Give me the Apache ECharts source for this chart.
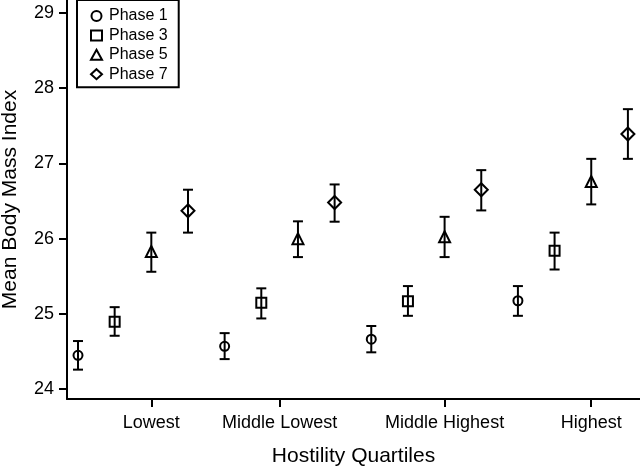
<!DOCTYPE html>
<html>
<head>
<meta charset="utf-8">
<script src="https://cdn.jsdelivr.net/npm/echarts@6/dist/echarts.min.js"></script>
<style>
html,body{margin:0;padding:0;background:#fff;}
#chart{width:640px;height:467px;}
</style>
</head>
<body>
<div id="chart"></div>
<script>
// ---- data ----
const quartiles = ['Lowest', 'Middle Lowest', 'Middle Highest', 'Highest'];
const tickPositions = [3, 6.5, 11, 15];
const phaseNames = ['Phase 1', 'Phase 3', 'Phase 5', 'Phase 7'];
const phaseSymbols = ['circle', 'rect', 'triangle', 'diamond'];

const phase1Mean = [24.45, 24.57, 24.665, 25.175];
const phase1Lo   = [24.26, 24.40, 24.49, 24.975];
const phase1Hi   = [24.64, 24.745, 24.84, 25.37];

const phase3Mean = [24.895, 25.15, 25.17, 25.84];
const phase3Lo   = [24.71, 24.94, 24.975, 25.59];
const phase3Hi   = [25.09, 25.34, 25.37, 26.08];

const phase5Mean = [25.83, 26.00, 26.025, 26.76];
const phase5Lo   = [25.56, 25.755, 25.755, 26.455];
const phase5Hi   = [26.08, 26.23, 26.29, 27.06];

const phase7Mean = [26.37, 26.48, 26.65, 27.39];
const phase7Lo   = [26.08, 26.225, 26.375, 27.06];
const phase7Hi   = [26.65, 26.72, 26.91, 27.72];

const yTicks = [24, 25, 26, 27, 28, 29];

// ---- build ----
const means = [phase1Mean, phase3Mean, phase5Mean, phase7Mean];
const los = [phase1Lo, phase3Lo, phase5Lo, phase7Lo];
const his = [phase1Hi, phase3Hi, phase5Hi, phase7Hi];
const symSizes = [9, 10, 11, 13];

const FONT = '"Liberation Sans", Arial, sans-serif';
const series = [];
const errData = [];
phaseNames.forEach((name, p) => {
  const pts = [];
  quartiles.forEach((q, i) => {
    const x = i * 4 + p + 1;
    pts.push([x, means[p][i]]);
    errData.push([x, los[p][i], his[p][i]]);
  });
  series.push({
    name: name,
    type: 'scatter',
    symbol: phaseSymbols[p],
    symbolSize: symSizes[p],
    z: 3,
    itemStyle: { color: 'rgba(255,255,255,0)', borderColor: '#000', borderWidth: 2, opacity: 1 },
    data: pts
  });
});
series.push({
  type: 'custom',
  name: 'err',
  z: 2,
  encode: { x: 0, y: [1, 2] },
  renderItem: function (params, api) {
    const x = api.value(0), lo = api.value(1), hi = api.value(2);
    const a = api.coord([x, lo]), b = api.coord([x, hi]);
    const hw = 5;
    const st = { stroke: '#000', lineWidth: 2 };
    return {
      type: 'group',
      children: [
        { type: 'line', shape: { x1: a[0], y1: a[1], x2: b[0], y2: b[1] }, style: st },
        { type: 'line', shape: { x1: a[0] - hw, y1: a[1], x2: a[0] + hw, y2: a[1] }, style: st },
        { type: 'line', shape: { x1: b[0] - hw, y1: b[1], x2: b[0] + hw, y2: b[1] }, style: st }
      ]
    };
  },
  data: errData
});

const chart = echarts.init(document.getElementById('chart'), null, { renderer: 'canvas' });
chart.setOption({
  animation: false,
  backgroundColor: '#fff',
  textStyle: { fontFamily: FONT, color: '#000' },
  grid: { left: 67, right: 0, top: 0, bottom: 68, containLabel: false, outerBoundsMode: 'none' },
  legend: {
    data: phaseNames.map((n, i) => ({ name: n, icon: phaseSymbols[i] })),
    orient: 'vertical',
    left: 77,
    top: 0,
    padding: [8, 11, 5, 13],
    itemWidth: 11,
    itemHeight: 10,
    itemGap: 3.4,
    borderColor: '#000',
    borderWidth: 2,
    backgroundColor: '#fff',
    selectedMode: false,
    itemStyle: { color: 'rgba(255,255,255,0)', borderColor: '#000', borderWidth: 2 },
    textStyle: { fontFamily: FONT, fontSize: 16, color: '#000', lineHeight: 16, padding: [0, 0, 0, 2] }
  },
  xAxis: {
    type: 'value',
    min: 0.7,
    max: 16.33,
    name: 'Hostility Quartiles',
    nameLocation: 'middle',
    nameGap: 47,
    nameTextStyle: { fontFamily: FONT, fontSize: 21, color: '#000' },
    splitLine: { show: false },
    axisLine: { show: true, onZero: false, lineStyle: { color: '#000', width: 2 } },
    axisTick: { show: true, length: 8, lineStyle: { color: '#000', width: 2 }, customValues: tickPositions },
    axisLabel: {
      fontFamily: FONT, fontSize: 18, color: '#000', margin: 15,
      customValues: tickPositions,
      formatter: function (v) {
        const i = tickPositions.indexOf(v);
        return i >= 0 ? quartiles[i] : '';
      }
    }
  },
  yAxis: {
    type: 'value',
    min: 23.87,
    max: 29.17,
    name: 'Mean Body Mass Index',
    nameLocation: 'middle',
    nameGap: 46,
    nameTextStyle: { fontFamily: FONT, fontSize: 21, color: '#000' },
    splitLine: { show: false },
    axisLine: { show: true, onZero: false, lineStyle: { color: '#000', width: 2 } },
    axisTick: { show: true, length: 8, lineStyle: { color: '#000', width: 2 }, customValues: yTicks },
    axisLabel: {
      fontFamily: FONT, fontSize: 18, color: '#000', margin: 13,
      customValues: yTicks,
      formatter: function (v) { return String(Math.round(v)); }
    }
  },
  series: series
});
</script>
</body>
</html>
